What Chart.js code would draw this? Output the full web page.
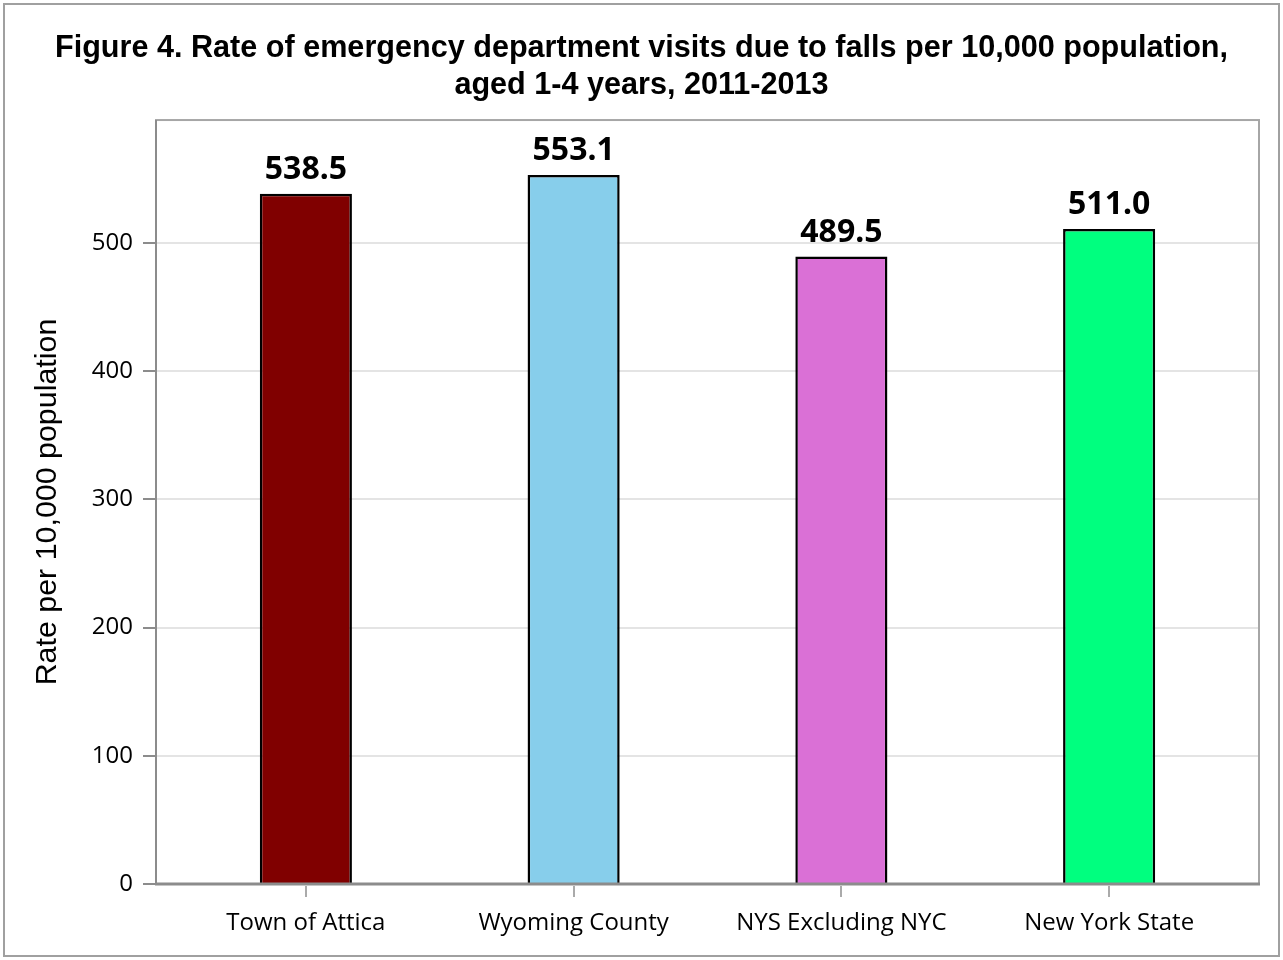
<!DOCTYPE html>
<html lang="en">
<head>
  <meta charset="UTF-8" />
  <title>Figure 4 - ED visits due to falls</title>
  <script src="https://cdn.jsdelivr.net/npm/chart.js"></script>
  <style>
    body { margin: 0; background: #fff; }
    #wrap { position: relative; width: 1283px; height: 960px; }
  </style>
</head>
<body>
  <div id="wrap"><canvas id="fallsChart" width="1283" height="960"></canvas></div>

  <script>
    // data
    const areas = ["Town of Attica", "Wyoming County", "NYS Excluding NYC", "New York State"];
    const rates = [538.5, 553.1, 489.5, 511.0];
    const barColors = ["#800000", "#87ceeb", "#da70d6", "#00ff7f"];
    const yTicks = [0, 100, 200, 300, 400, 500];

    const SIDE = 16; // gap between plot frame and first/last category

    // frame, grid lines, tick marks and value labels
    const framePlugin = {
      id: 'frame',
      beforeDraw(chart) {
        const ctx = chart.ctx;
        ctx.save();
        ctx.fillStyle = '#fff';
        ctx.fillRect(0, 0, chart.width, chart.height);
        ctx.strokeStyle = '#a0a0a0';
        ctx.lineWidth = 2;
        ctx.strokeRect(4, 4, chart.width - 8, chart.height - 8);
        ctx.restore();
      },
      beforeDatasetsDraw(chart) {
        const { ctx, chartArea } = chart;
        const y = chart.scales.y;
        const left = chartArea.left - SIDE, right = chartArea.right + SIDE;
        ctx.save();
        ctx.strokeStyle = '#e4e4e4';
        ctx.lineWidth = 2;
        yTicks.forEach(v => {
          if (v === 0) return;
          const py = Math.round(y.getPixelForValue(v));
          ctx.beginPath();
          ctx.moveTo(left, py);
          ctx.lineTo(right, py);
          ctx.stroke();
        });
        ctx.restore();
      },
      afterDatasetsDraw(chart) {
        const { ctx, chartArea } = chart;
        const x = chart.scales.x, y = chart.scales.y;
        const left = chartArea.left - SIDE, right = chartArea.right + SIDE;
        ctx.save();
        // plot frame
        ctx.strokeStyle = '#a6a6a6';
        ctx.lineWidth = 2;
        ctx.strokeRect(left, chartArea.top, right - left, chartArea.bottom - chartArea.top);
        // axis lines
        ctx.strokeStyle = '#8c8c8c';
        ctx.beginPath();
        ctx.moveTo(left, chartArea.top);
        ctx.lineTo(left, chartArea.bottom);
        ctx.stroke();
        ctx.lineWidth = 3;
        ctx.beginPath();
        ctx.moveTo(left - 1, chartArea.bottom);
        ctx.lineTo(right + 1, chartArea.bottom);
        ctx.stroke();
        // y tick marks
        ctx.lineWidth = 2;
        yTicks.forEach(v => {
          const py = Math.round(y.getPixelForValue(v));
          ctx.beginPath();
          ctx.moveTo(left - 13, py);
          ctx.lineTo(left, py);
          ctx.stroke();
        });
        // x tick marks
        ctx.strokeStyle = '#aaaaaa';
        areas.forEach((a, i) => {
          const px = Math.round(x.getPixelForValue(i));
          ctx.beginPath();
          ctx.moveTo(px, chartArea.bottom + 2);
          ctx.lineTo(px, chartArea.bottom + 13);
          ctx.stroke();
        });
        // value labels
        ctx.fillStyle = '#000';
        ctx.font = 'bold 32px "Noto Sans", "Open Sans", sans-serif';
        ctx.textAlign = 'center';
        ctx.textBaseline = 'alphabetic';
        chart.getDatasetMeta(0).data.forEach((bar, i) => {
          ctx.fillText(rates[i].toFixed(1), bar.x, bar.y - 15);
        });
        ctx.restore();
      }
    };

    Chart.defaults.color = '#000';

    function drawChart() {
      new Chart(document.getElementById('fallsChart'), {
        type: 'bar',
        data: {
          labels: areas,
          datasets: [{
            data: rates,
            backgroundColor: barColors,
            borderColor: '#000',
            borderWidth: 2.5,
            barPercentage: 0.344,
            categoryPercentage: 1.0
          }]
        },
        options: {
          responsive: false,
          animation: false,
          layout: { padding: { top: 0, right: 40, bottom: 0, left: 40 } },
          plugins: {
            legend: { display: false },
            tooltip: { enabled: false },
            title: {
              display: true,
              text: ['Figure 4. Rate of emergency department visits due to falls per 10,000 population,',
                     'aged 1-4 years, 2011-2013'],
              font: { family: '"Liberation Sans", Arial', size: 30.6, weight: 'bold', lineHeight: 1.2 },
              color: '#000',
              padding: { top: 30, bottom: 16.6 }
            }
          },
          scales: {
            x: {
              grid: { display: false, drawTicks: false },
              border: { display: false },
              ticks: { font: { family: '"Open Sans"', size: 24 }, padding: 25, color: '#000' },
              afterFit(scale) { scale.height = 76; }
            },
            y: {
              min: 0,
              max: 596,
              grid: { display: false, drawTicks: false },
              border: { display: false },
              afterBuildTicks(scale) { scale.ticks = yTicks.map(v => ({ value: v })); },
              ticks: {
                padding: 39,
                font: { family: '"Open Sans"', size: 24 },
                color: '#000'
              },
              title: {
                display: true,
                text: 'Rate per 10,000 population',
                font: { family: '"Liberation Sans", Arial', size: 30.4, lineHeight: 1.2 },
                color: '#000',
                padding: { top: -11, bottom: 0 }
              },
              afterFit(scale) { scale.width = 132; }
            }
          }
        },
        plugins: [framePlugin]
      });
    }

    Promise.all([
      document.fonts.load('bold 32px "Noto Sans"'),
      document.fonts.load('24px "Open Sans"'),
      document.fonts.load('bold 30px "Liberation Sans"'),
      document.fonts.load('30px "Liberation Sans"')
    ]).then(drawChart, drawChart);
  </script>
</body>
</html>
